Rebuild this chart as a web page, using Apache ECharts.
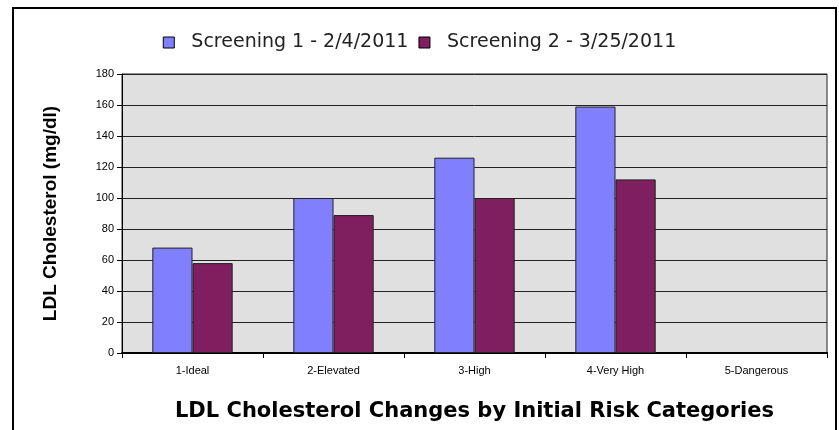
<!DOCTYPE html>
<html>
<head>
    <meta charset="utf-8">
    <title>LDL Cholesterol</title>
    <script src="https://cdn.jsdelivr.net/npm/echarts@6/dist/echarts.min.js"></script>
    <style>
        body { margin: 0; background: #fff; }
    </style>
</head>
<body>
    <div id="main" style="width: 839px;height:430px;"></div>
    <script type="text/javascript">
        // data
        var categories = ['1-Ideal', '2-Elevated', '3-High', '4-Very High', '5-Dangerous'];
        var screening1 = [68, 100, 126, 159, null];
        var screening2 = [58, 89, 100, 112, null];
        var seriesNames = ['Screening 1 - 2/4/2011', 'Screening 2 - 3/25/2011'];

        var myChart = echarts.init(document.getElementById('main'));
        var font = 'Liberation Sans, Arial, sans-serif';
        var wideFont = 'DejaVu Sans, sans-serif';

        var option = {
            animation: false,
            textStyle: { fontFamily: font },
            graphic: [
                // outer frame of the chart area
                { type: 'polyline', shape: { points: [[13, 440], [13, 8], [836, 8], [836, 440]] },
                  style: { stroke: '#000', lineWidth: 2, fill: null } }
            ],
            legend: {
                top: 28,
                left: 'center',
                icon: 'rect',
                itemWidth: 11,
                itemHeight: 11,
                itemGap: 10,
                formatter: '  {name}',
                textStyle: { fontSize: 19, color: '#222', fontFamily: wideFont },
                itemStyle: { borderColor: '#000', borderWidth: 1 },
                data: seriesNames
            },
            grid: {
                left: 122,
                right: 12,
                top: 74,
                bottom: 77,
                show: true,
                backgroundColor: '#e0e0e0',
                borderColor: '#222',
                borderWidth: 1
            },
            xAxis: {
                type: 'category',
                data: categories,
                name: 'LDL Cholesterol Changes by Initial Risk Categories',
                nameLocation: 'middle',
                nameGap: 48,
                nameTextStyle: { fontSize: 21, fontWeight: 'bold', color: '#000', fontFamily: wideFont },
                axisLine: { lineStyle: { color: '#000', width: 2 } },
                axisTick: { show: true, length: 5, lineStyle: { color: '#000' } },
                axisLabel: { fontSize: 11, color: '#000', margin: 12 }
            },
            yAxis: {
                type: 'value',
                min: 0,
                max: 180,
                interval: 20,
                name: 'LDL Cholesterol (mg/dl)',
                nameLocation: 'middle',
                nameGap: 62,
                nameTextStyle: { fontSize: 19, fontWeight: 'bold', color: '#000' },
                axisLine: { show: true, lineStyle: { color: '#000', width: 1 } },
                axisTick: { show: true, length: 5, lineStyle: { color: '#000' } },
                axisLabel: { fontSize: 11, color: '#000', margin: 8 },
                splitLine: { show: true, lineStyle: { color: '#222', width: 1 } }
            },
            series: [
                {
                    name: seriesNames[0],
                    type: 'bar',
                    data: screening1,
                    barGap: '0%',
                    barCategoryGap: '43%',
                    itemStyle: { color: '#8080ff', borderColor: '#222', borderWidth: 1 }
                },
                {
                    name: seriesNames[1],
                    type: 'bar',
                    data: screening2,
                    itemStyle: { color: '#7f1f5f', borderColor: '#222', borderWidth: 1 }
                }
            ]
        };
        myChart.setOption(option);
    </script>
</body>
</html>
